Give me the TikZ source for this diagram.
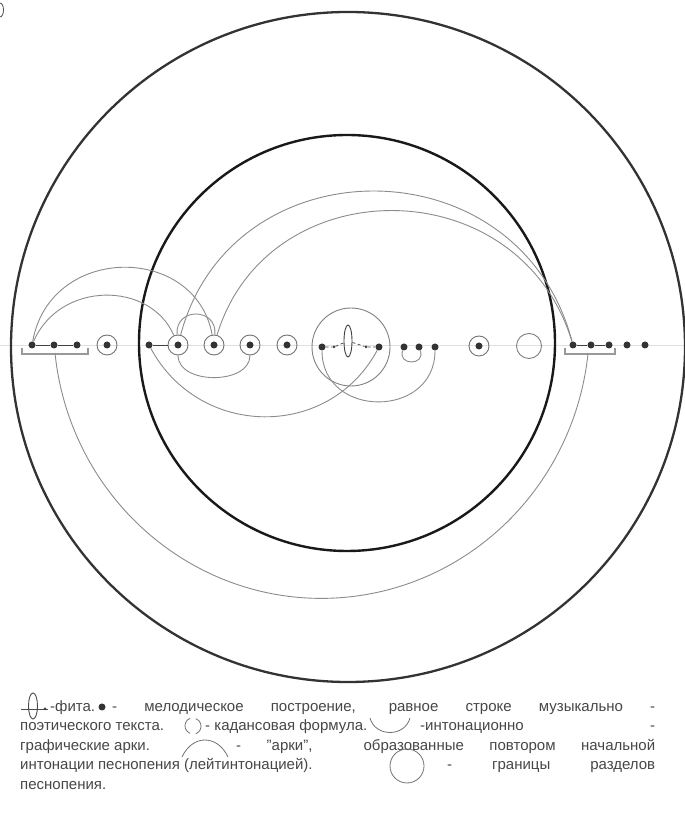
\documentclass[tikz,border=0pt]{standalone}
\usepackage{fontspec}
\setmainfont{Liberation Sans}
\usetikzlibrary{shapes.geometric}
\begin{document}
\begin{tikzpicture}[x=1pt,y=1pt,
  outerc/.style={draw=black!80,line width=2.3pt},
  innerc/.style={draw=black!90,line width=2.4pt},
  arcline/.style={draw=black!45,line width=0.9pt},
  link/.style={draw=black!75,line width=0.9pt},
  dotn/.style={circle,fill=black!80,inner sep=0pt,minimum size=7pt},
  sdot/.style={circle,fill=black!75,inner sep=0pt,minimum size=3pt},
  ringdot/.style={circle,draw=black!55,line width=0.9pt,inner sep=0pt,minimum size=20pt,
     path picture={\fill[black!80] (path picture bounding box.center) circle[radius=3.5pt];}},
  ringe/.style={circle,draw=black!50,line width=0.9pt,inner sep=0pt,minimum size=25pt},
  bound/.style={circle,draw=black!50,line width=0.9pt,inner sep=0pt,minimum size=78pt},
  fitae/.style={ellipse,draw=black!75,line width=0.9pt,inner sep=0pt,minimum width=8pt,minimum height=32pt},
  brack/.style={draw=black!40,line width=1.4pt},
  leg/.style={anchor=base west,inner sep=0pt,text=black!72,font=\fontsize{15}{18}\selectfont},
  legsym/.style={draw=black!55,line width=0.8pt}]
\useasboundingbox[fill=white] (0,0) rectangle (685,825);

% cut-off mark in the top-left corner
\draw[black!70,line width=0.8pt] (0,822) arc[start angle=90,end angle=-90,x radius=3.5pt,y radius=7pt];

% faint ruling line
\coordinate (rl0) at (0,480);
\coordinate (rl1) at (685,480);
\draw[black!12,line width=0.6pt] (rl0) -- (rl1);

% big circles
\draw[outerc] (348,478) ellipse[x radius=337pt,y radius=335pt];
\draw[innerc] (347,482) circle[radius=208pt];

% brackets
\draw[brack] (22,477) -- (22,471) -- (88,471) -- (88,477);
\draw[brack] (565,477) -- (565,471) -- (615,471) -- (615,477);
\coordinate (lb) at (55,472);

% row of elements
\node[dotn] (l1) at (32,480) {};
\node[dotn] (l2) at (54,480) {};
\node[dotn] (l3) at (77,480) {};
\node[ringdot] (c1) at (107,480) {};
\node[dotn] (d1) at (149,480) {};
\node[ringdot] (c2) at (178,480) {};
\node[ringdot] (c3) at (214,480) {};
\node[ringdot] (c4) at (250,480) {};
\node[ringdot] (c5) at (287,480) {};
\node[bound] (fc) at (351,478) {};
\node[dotn] (f1) at (322,478) {};
\node[sdot] (s1) at (334,478) {};
\node[fitae] (fe) at (348,484) {};
\node[sdot] (s2) at (366,478) {};
\node[dotn] (f2) at (379,478) {};
\node[dotn] (g1) at (404,478) {};
\node[dotn] (g2) at (419,478) {};
\node[dotn] (g3) at (435,478) {};
\node[ringdot] (c6) at (479,479) {};
\node[ringe] (e1) at (529,479) {};
\node[dotn] (r1) at (573,480) {};
\node[dotn] (r2) at (591,480) {};
\node[dotn] (r3) at (609,480) {};
\node[dotn] (r4) at (627,480) {};
\node[dotn] (r5) at (645,480) {};

% links on the row
\draw[link] (l1) -- (l2) -- (l3);
\draw[link] (r1) -- (r2) -- (r3);
\draw[link] (d1) -- (c2);
\draw[black!70,line width=0.8pt,dash pattern=on 3pt off 2.5pt] (f1) -- (s1) -- (fe) -- (s2) -- (f2);

% upper arcs
\draw[arcline] (c2) .. controls +(75.2:210pt) and +(104.8:210pt) .. (r1);
\draw[arcline] (c3) .. controls +(73.1:185pt) and +(106.9:185pt) .. (r1);
\draw[arcline] (l1) .. controls +(79.7:103pt) and +(100.3:103pt) .. (c3);
\draw[arcline] (l1) .. controls +(66.7:70pt) and +(113.3:70pt) .. (c2);
\draw[arcline] (c2) .. controls +(95:38pt) and +(85:38pt) .. (c3);

% lower arcs
\draw[arcline] (c2) .. controls +(-90:40pt) and +(-90:40pt) .. (c4);
\draw[arcline] (d1) .. controls +(-61.7:106pt) and +(-118.3:106pt) .. (f2);
\draw[arcline] (f1) .. controls +(-90:72pt) and +(-90:72pt) .. (g3);
\draw[arcline] (g1) .. controls +(-110:20pt) and +(-70:20pt) .. (g2);
\draw[arcline] (lb) arc[start angle=186,end angle=354,x radius=268pt,y radius=274pt];

% ---------------- legend ----------------
\node[ellipse,draw=black!70,line width=0.9pt,inner sep=0pt,minimum width=9pt,minimum height=26pt] (lfe) at (33,119) {};
\coordinate (lfa) at (21,116);
\coordinate (lfb) at (48,116);
\draw[black!70,line width=0.9pt] (lfa) -- (lfb);
\node[sdot] (lfd) at (45,116) {};
\node[leg] (t1a) at (50,113.5) {-фита.};
\node[dotn] (ld) at (102,118) {};
\node[leg] (t1b) at (112,113.5) {\makebox[543pt][s]{- мелодическое построение, равное строке музыкально -}};

\node[leg] (t2a) at (20,94.5) {поэтического текста.};
\node[inner sep=0pt,minimum size=16pt,circle] (lc) at (193,99) {};
\draw[legsym] (lc.110) arc[start angle=110,end angle=250,radius=8pt];
\draw[legsym] (lc.-70) arc[start angle=-70,end angle=70,radius=8pt];
\node[leg] (t2b) at (205,94.5) {- кадансовая формула.};
\coordinate (la1) at (370,107);
\coordinate (la2) at (410,107);
\draw[legsym] (la1) .. controls +(-75:20pt) and +(-105:20pt) .. (la2);
\node[leg] (t2c) at (420,94.5) {\makebox[235pt][s]{-интонационно -}};

\node[leg] (t3a) at (20,74.5) {графические арки.};
\coordinate (ua1) at (182,68);
\coordinate (ua2) at (228,68);
\draw[legsym] (ua1) .. controls +(65:25pt) and +(115:25pt) .. (ua2);
\node[leg] (t3b) at (236,74.5) {\makebox[419pt][s]{- "арки",\ \ образованные повтором начальной}};

\node[leg] (t4a) at (20,55.5) {интонации песнопения (лейтинтонацией).};
\node[circle,draw=black!55,line width=0.8pt,inner sep=0pt,minimum size=34pt] (lbc) at (407,59) {};
\node[leg] (t4b) at (447,55.5) {\makebox[208pt][s]{- границы разделов}};

\node[leg] (t5) at (20,35.5) {песнопения.};
\end{tikzpicture}
\end{document}
